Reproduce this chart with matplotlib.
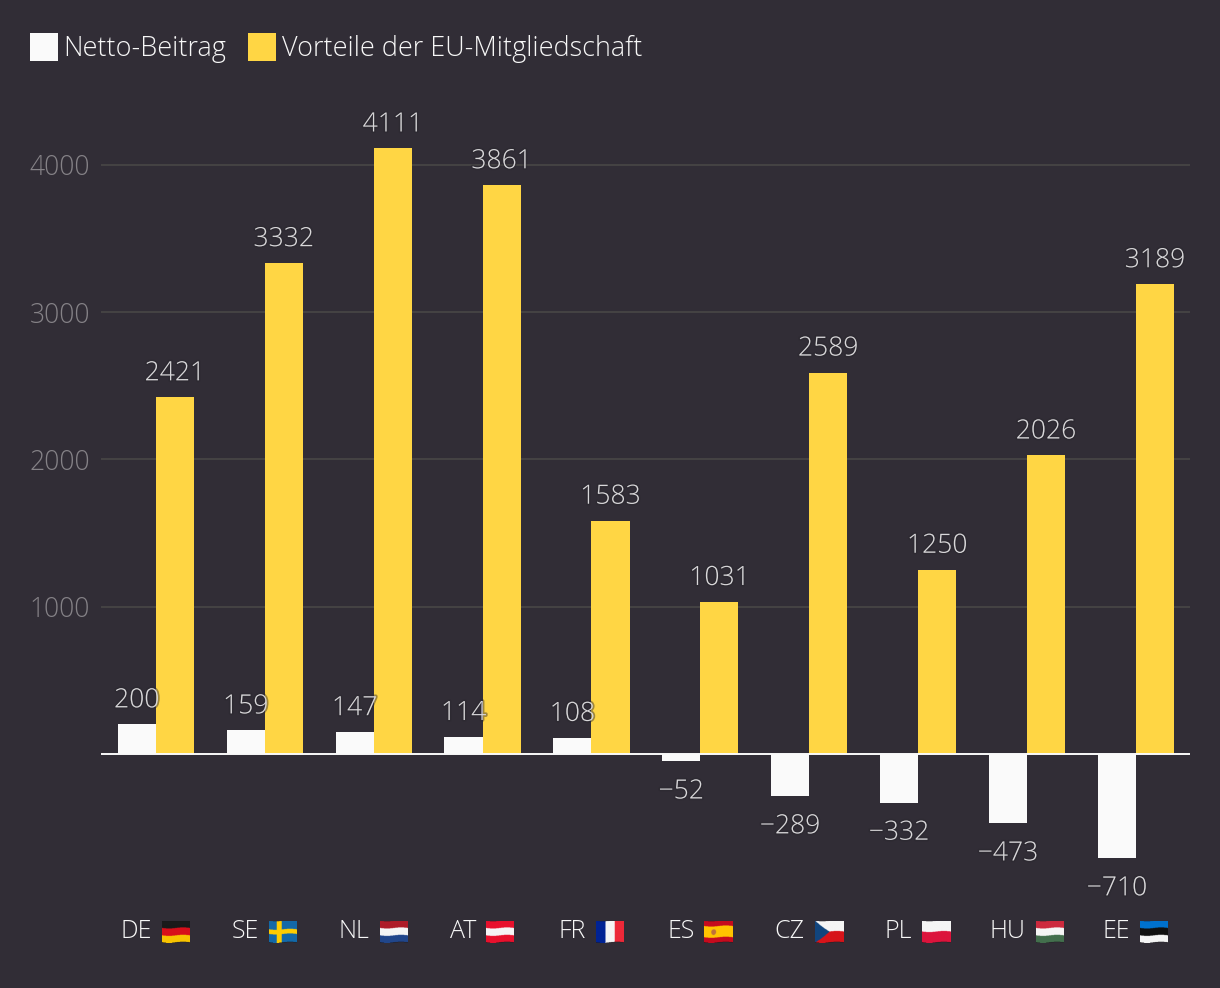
import numpy as np
import matplotlib
matplotlib.use('Agg')
import matplotlib.pyplot as plt
import matplotlib.patheffects as pe

# data
countries = ['DE', 'SE', 'NL', 'AT', 'FR', 'ES', 'CZ', 'PL', 'HU', 'EE']
netto = [200, 159, 147, 114, 108, -52, -289, -332, -473, -710]
vorteile = [2421, 3332, 4111, 3861, 1583, 1031, 2589, 1250, 2026, 3189]
y_ticks = [1000, 2000, 3000, 4000]

BG = '#312d36'
YELLOW = '#ffd644'
WHITE = '#fafafa'

W, H = 1220, 988
plt.rcParams['font.family'] = ['Open Sans', 'DejaVu Sans']
plt.rcParams['font.weight'] = 'light'


def px(v):
    # pixels to points at dpi 100
    return v * 0.72


# flags: list of stripes top to bottom (or left to right if vertical)
flag_colors = {
    'DE': (['#1a1a1a', '#d80f1a', '#f8c300'], False),
    'NL': (['#ae1c28', '#f5f5f5', '#21468b'], False),
    'AT': (['#e8112d', '#f5f5f5', '#e8112d'], False),
    'FR': (['#002395', '#f5f5f5', '#ed2939'], True),
    'PL': (['#f5f5f5', '#dc143c'], False),
    'HU': (['#cd2a3e', '#f5f5f5', '#436f4d'], False),
    'EE': (['#0072ce', '#111111', '#f5f5f5'], False),
}


def rgb(c):
    return np.array(matplotlib.colors.to_rgb(c))


def make_flag(code, w=112, h=80):
    img = np.ones((h, w, 3))
    yy, xx = np.mgrid[0:h, 0:w]
    u = xx / w
    v = yy / h
    if code in flag_colors:
        cols, vertical = flag_colors[code]
        t = u if vertical else v
        idx = np.minimum((t * len(cols)).astype(int), len(cols) - 1)
        for i, c in enumerate(cols):
            img[idx == i] = rgb(c)
    elif code == 'SE':
        img[:] = rgb('#1369a8')
        img[(np.abs(v - 0.5) < 0.11) | (np.abs(u - 0.36) < 0.09)] = rgb('#fecc00')
    elif code == 'ES':
        img[:] = rgb('#c60b1e')
        img[np.abs(v - 0.5) < 0.26] = rgb('#ffc400')
        img[(u - 0.33) ** 2 * 2.4 + (v - 0.5) ** 2 < 0.017] = rgb('#c0703a')
    elif code == 'CZ':
        img[v < 0.5] = rgb('#f5f5f5')
        img[v >= 0.5] = rgb('#d7141a')
        img[u < 0.5 * (1 - np.abs(2 * v - 1))] = rgb('#11457e')
    # wave like the emoji flags
    out = np.zeros((h + 4, w, 4))
    for col in range(w):
        shift = int(round(2 + 2 * np.sin(col / w * 2 * np.pi)))
        out[shift:shift + h, col, :3] = img[:, col]
        out[shift:shift + h, col, 3] = 1
    return out


fig = plt.figure(figsize=(W / 100, H / 100), dpi=100, facecolor=BG)

# plot area in pixels: x 101..1190, zero line near y=753.8, 147.25 px per 1000
top_px, bottom_px = 100, 900
ax = fig.add_axes([101.4 / W, 1 - bottom_px / H, 1089 / W, (bottom_px - top_px) / H])
ax.set_facecolor(BG)
ax.set_ylim((753.8 - bottom_px) / 0.14725, (753.8 - top_px) / 0.14725)
ax.set_xlim(-0.5, len(countries) - 0.5)

x = np.arange(len(countries))
bw = 0.35
b1 = ax.bar(x - bw / 2, netto, bw, color=WHITE, label='Netto-Beitrag', zorder=2)
b2 = ax.bar(x + bw / 2, vorteile, bw, color=YELLOW, label='Vorteile der EU-Mitgliedschaft', zorder=2)

ax.set_yticks(y_ticks)
ax.set_xticks([])
ax.tick_params(axis='y', length=0, pad=8, labelsize=px(26.5), labelcolor='#858287')
ax.grid(axis='y', color='#4b4947', lw=1.1, zorder=1)
for s in ax.spines.values():
    s.set_visible(False)
ax.axhline(0, color='#fafafa', lw=1.4, zorder=3)

halo = [pe.withStroke(linewidth=2.5, foreground='#2a272e', alpha=0.45)]
for bars, vals in ((b1, netto), (b2, vorteile)):
    for r, v in zip(bars, vals):
        off = 10 if v >= 0 else -16
        label = str(v).replace('-', '\u2212')
        t = ax.annotate(label, (r.get_x() + r.get_width() / 2, v), xytext=(0, px(off)),
                        textcoords='offset points', ha='center',
                        va='bottom' if v >= 0 else 'top', fontsize=px(26.5),
                        color='#d9d8da', zorder=5)
        t.set_path_effects(halo)

# category labels with flags next to them
fig.canvas.draw()
renderer = fig.canvas.get_renderer()
for i, code in enumerate(countries):
    centre = ax.transData.transform((i, 0))[0]
    t = fig.text(0, 1 - 931 / H, code, color='#f7f7f7', fontsize=px(25), va='center', ha='left')
    tw = t.get_window_extent(renderer).width
    left = centre - (tw + 10 + 28) / 2 - 0.5
    t.set_x(left / W)
    fa = fig.add_axes([(left + tw + 10) / W, 1 - 943.5 / H, 28 / W, 23 / H])
    fa.imshow(make_flag(code), aspect='auto', interpolation='antialiased')
    fa.axis('off')

fs = 27
leg = fig.legend(handles=[b1, b2], loc='upper left', bbox_to_anchor=(30 / W, 1 - 33 / H),
                 frameon=False, ncol=2, fontsize=px(fs), labelcolor='#f7f7f7',
                 handlelength=28 / fs, handleheight=1.21, handletextpad=5.5 / fs,
                 columnspacing=22 / fs, borderaxespad=0, borderpad=0)

fig.savefig('out.png', dpi=100, facecolor=BG)
